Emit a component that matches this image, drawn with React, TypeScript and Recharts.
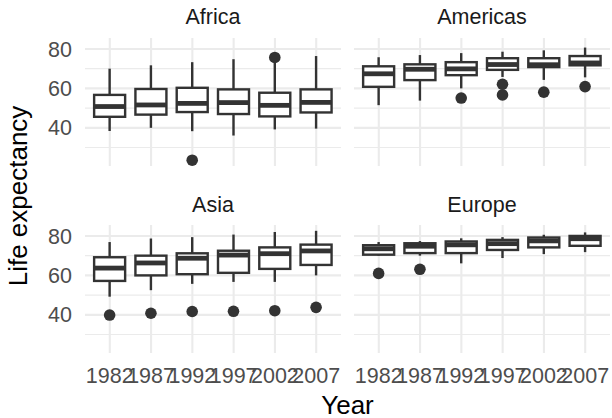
import React from 'react';
import { ComposedChart, Bar, XAxis, YAxis, ReferenceLine } from 'recharts';

const years = ['1982', '1987', '1992', '1997', '2002', '2007'];
const continents = ['Africa', 'Americas', 'Asia', 'Europe'];
const yTicks = [40, 60, 80];
const minorY = [30, 50, 70];
const yDomain: [number, number] = [20.65, 85.55];

// [lower whisker, Q1, median, Q3, upper whisker]
const africaBoxes = [
  [38.4, 45.6, 50.8, 56.7, 70.0],
  [40.0, 46.7, 51.6, 59.7, 71.7],
  [38.3, 48.0, 52.4, 60.3, 73.3],
  [36.1, 47.0, 52.8, 59.5, 74.8],
  [39.2, 45.8, 51.4, 57.8, 73.0],
  [39.6, 47.8, 52.9, 59.5, 76.4],
];
const africaOutliers = [[], [], [23.6], [], [75.7], []];

const americasBoxes = [
  [51.5, 60.8, 67.4, 71.2, 75.8],
  [53.8, 64.2, 69.7, 72.2, 76.9],
  [60.0, 66.7, 69.9, 73.3, 77.9],
  [65.8, 69.4, 72.1, 75.3, 78.6],
  [64.3, 70.8, 72.0, 75.3, 79.3],
  [65.6, 71.7, 72.9, 76.4, 80.7],
];
const americasOutliers = [[], [], [55.1], [62.1, 56.7], [58.1], [60.9]];

const asiaBoxes = [
  [49.2, 57.2, 63.7, 69.2, 76.9],
  [52.5, 60.0, 66.3, 70.0, 78.7],
  [55.7, 60.6, 68.7, 71.2, 79.4],
  [56.7, 61.3, 70.3, 72.5, 80.7],
  [56.7, 63.3, 71.0, 74.2, 82.0],
  [60.0, 65.3, 72.4, 75.6, 82.6],
];
const asiaOutliers = [[39.9], [40.8], [41.7], [41.8], [42.1], [43.8]];

const europeBoxes = [
  [70.0, 70.5, 73.5, 75.3, 76.9],
  [70.0, 71.3, 74.8, 76.3, 77.4],
  [66.1, 71.3, 75.5, 77.2, 78.8],
  [68.8, 72.9, 76.1, 78.0, 79.4],
  [70.8, 74.2, 77.5, 79.2, 80.6],
  [71.8, 75.0, 78.6, 80.0, 81.8],
];
const europeOutliers = [[61.0], [63.1], [], [], [], []];

const FONT = '"Liberation Sans", Arial, Helvetica, sans-serif';
const DARK = '#333333';
const GRID = '#ebebeb';

function buildData(boxes: number[][], outliers: number[][]) {
  return years.map((year, i) => {
    const [lo, q1, med, q3, hi] = boxes[i];
    return { year, lo, q1, med, q3, hi, outliers: outliers[i] };
  });
}

const panelData = [
  buildData(africaBoxes, africaOutliers),
  buildData(americasBoxes, americasOutliers),
  buildData(asiaBoxes, asiaOutliers),
  buildData(europeBoxes, europeOutliers),
];

function BoxShape(props: any) {
  const { x, y, width, height, payload } = props;
  if (!payload || !isFinite(y) || !isFinite(height)) return null;
  const top = Math.min(y, y + height);
  const h = Math.abs(height);
  const { lo, q1, med, q3, hi, outliers } = payload;
  const k = h / (hi - lo);
  const py = (v: number) => top + (hi - v) * k;
  const cx = x + width / 2;
  return (
    <g>
      <line x1={cx} x2={cx} y1={py(hi)} y2={py(q3)} stroke={DARK} strokeWidth={2.4} />
      <line x1={cx} x2={cx} y1={py(q1)} y2={py(lo)} stroke={DARK} strokeWidth={2.4} />
      <rect x={x} y={py(q3)} width={width} height={py(q1) - py(q3)} fill="#ffffff" stroke={DARK} strokeWidth={2.4} />
      <line x1={x} x2={x + width} y1={py(med)} y2={py(med)} stroke={DARK} strokeWidth={4.8} />
      {outliers.map((o: number, j: number) => (
        <circle key={j} cx={cx} cy={py(o)} r={5.8} fill={DARK} />
      ))}
    </g>
  );
}

// panel plot areas: left, top, right, bottom (pixels)
const panels = [
  { l: 85, t: 38, r: 341, b: 166, yLabels: true, xLabels: false },
  { l: 354, t: 38, r: 610, b: 166, yLabels: false, xLabels: false },
  { l: 85, t: 225, r: 341, b: 353, yLabels: true, xLabels: true },
  { l: 354, t: 225, r: 610, b: 353, yLabels: false, xLabels: true },
];

const W = 612;
const H = 418;
const Y_W = 60;
const X_H = 40;
const tickStyle = { fill: '#4d4d4d', fontSize: 21.5, fontFamily: FONT };

function Panel({ idx }: { idx: number }) {
  const p = panels[idx];
  const data = panelData[idx];
  const gridMargin = {
    left: p.yLabels ? p.l - Y_W : p.l,
    right: W - p.r,
    top: p.t,
    bottom: p.xLabels ? H - p.b - X_H : H - p.b,
  };
  const boxMargin = { left: p.l, right: W - p.r, top: p.t, bottom: H - p.b };
  const band = (p.r - p.l) / 6.2;
  const pad = { left: band * 0.1, right: band * 0.1 };
  return (
    <>
      <div style={{ position: 'absolute', left: 0, top: 0 }}>
        <ComposedChart width={W} height={H} data={data} margin={gridMargin}>
          <XAxis
            dataKey="year"
            type="category"
            scale="band"
            hide={!p.xLabels}
            height={X_H}
            interval={0}
            tickLine={false}
            axisLine={false}
            tickSize={0}
            tickMargin={15}
            padding={pad}
            tick={tickStyle}
          />
          <YAxis
            type="number"
            domain={yDomain}
            allowDataOverflow
            ticks={yTicks}
            hide={!p.yLabels}
            width={Y_W}
            tickLine={false}
            axisLine={false}
            tickSize={0}
            tickMargin={13}
            tick={tickStyle}
          />
          {minorY.map((v) => (
            <ReferenceLine key={'mn' + v} y={v} stroke={GRID} strokeWidth={1.1} />
          ))}
          {yTicks.map((v) => (
            <ReferenceLine key={'mj' + v} y={v} stroke={GRID} strokeWidth={2.1} />
          ))}
          {years.map((yr) => (
            <ReferenceLine key={'vx' + yr} x={yr} stroke={GRID} strokeWidth={2.1} />
          ))}
        </ComposedChart>
      </div>
      <div style={{ position: 'absolute', left: 0, top: 0 }}>
        <ComposedChart width={W} height={H} data={data} margin={boxMargin}>
          <XAxis dataKey="year" type="category" scale="band" hide padding={pad} />
          <YAxis type="number" domain={yDomain} allowDataOverflow hide />
          <Bar
            dataKey={(d: any) => [d.lo, d.hi]}
            barSize={31}
            shape={BoxShape}
            isAnimationActive={false}
          />
        </ComposedChart>
      </div>
    </>
  );
}

export default function App() {
  const stripPos = [
    { x: 213, y: 24 },
    { x: 482, y: 24 },
    { x: 213, y: 211.5 },
    { x: 482, y: 211.5 },
  ];
  return (
    <div style={{ position: 'absolute', left: 0, top: 0, width: W, height: H, background: '#ffffff', overflow: 'hidden' }}>
      {[0, 1, 2, 3].map((i) => (
        <Panel key={i} idx={i} />
      ))}
      <svg width={W} height={H} style={{ position: 'absolute', left: 0, top: 0, pointerEvents: 'none' }}>
        {continents.map((c, i) => (
          <text key={c} x={stripPos[i].x} y={stripPos[i].y} textAnchor="middle" fontFamily={FONT} fontSize={21.5} fill="#1a1a1a">
            {c}
          </text>
        ))}
        <text x={347.5} y={413.5} textAnchor="middle" fontFamily={FONT} fontSize={26} fill="#000000">
          Year
        </text>
        <text x={27} y={196} textAnchor="middle" fontFamily={FONT} fontSize={26} fill="#000000" transform="rotate(-90, 27, 196)">
          Life expectancy
        </text>
      </svg>
    </div>
  );
}
